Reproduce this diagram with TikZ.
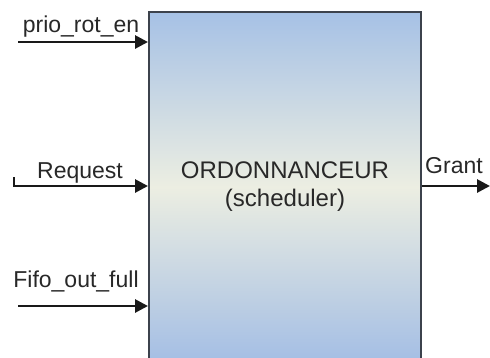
\documentclass[tikz,border=0pt]{standalone}
\usepackage{fontspec}
\setmainfont{Liberation Sans}
\usetikzlibrary{arrows.meta}
\definecolor{boxtop}{RGB}{166,193,229}
\definecolor{boxmid}{RGB}{236,238,226}
\definecolor{boxbot}{RGB}{164,190,228}
\definecolor{boxedge}{RGB}{60,66,76}
\definecolor{txt}{RGB}{40,40,40}
\tikzset{
  blockbox/.style={draw=boxedge, line width=2pt, rectangle, minimum width=272pt, minimum height=350pt, inner sep=0pt,
    top color=boxtop, bottom color=boxbot, middle color=boxmid, align=center, text=txt,
    font=\fontsize{24}{28}\selectfont},
  sig/.style={line width=2.8pt, draw=black!90, -{Triangle[length=13pt,width=13pt]}},
  siglabel/.style={anchor=base, text=txt, inner sep=0pt, font=\fontsize{23}{26}\selectfont},
}
\begin{document}
\begin{tikzpicture}[x=1pt,y=-1pt]
\useasboundingbox (0,0) rectangle (490,357);
\clip (0,0) rectangle (490,357);
\node[blockbox, anchor=north west] (sched) at (148,11) {ORDONNANCEUR\\(scheduler)};
% inputs
\coordinate (pstart) at (18,42);
\coordinate (rtick) at (14,177);
\coordinate (rstart) at (14,186);
\coordinate (fstart) at (18,306);
\coordinate (gend) at (490,186);
\node[siglabel] (plab) at (81,32) {prio\_rot\_en};
\node[siglabel] (rlab) at (80,178) {Request};
\node[siglabel] (flab) at (76,287) {Fifo\_out\_full};
\node[siglabel] (glab) at (454,173) {Grant};
\draw[sig] (pstart) -- (pstart -| sched.west);
\draw[sig, line join=miter] (rtick) -- (rstart) -- (rstart -| sched.west);
\draw[sig] (fstart) -- (fstart -| sched.west);
\draw[sig] (sched.east |- gend) -- (gend);
\end{tikzpicture}
\end{document}
